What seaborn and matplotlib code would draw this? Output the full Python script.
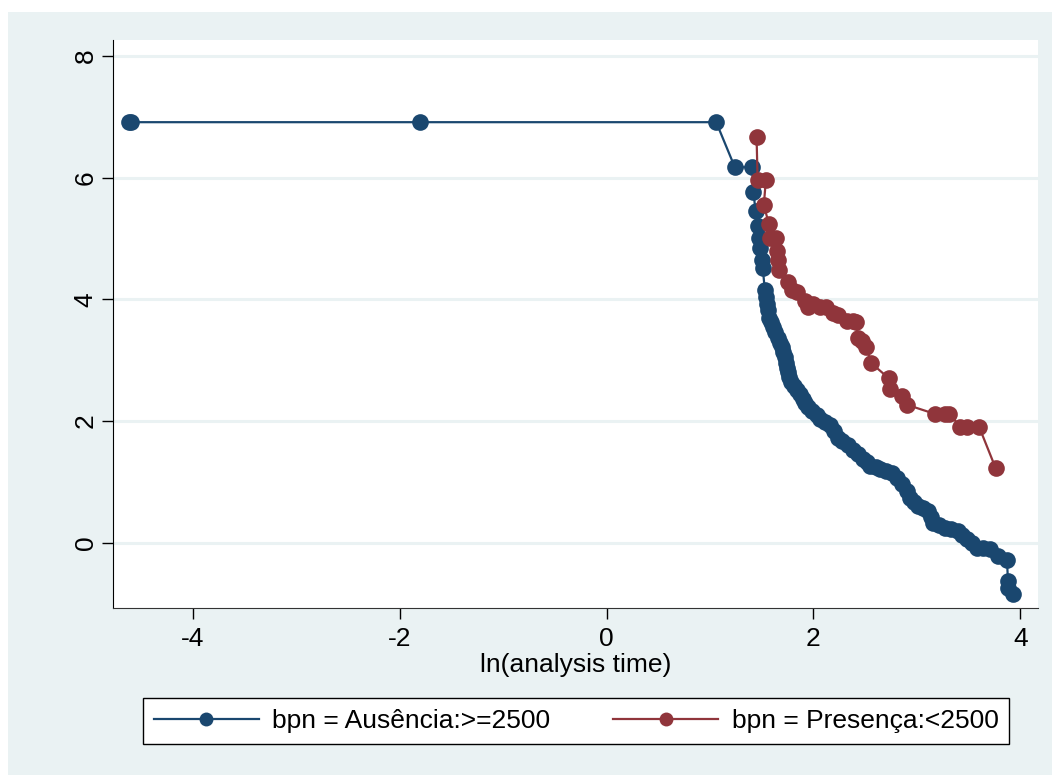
import matplotlib
matplotlib.use("Agg")
import matplotlib.pyplot as plt
import seaborn as sns
import pandas as pd
from matplotlib.patches import Rectangle

# log-log survival curves
ausencia_x = [-4.62, -4.60, -1.80, 1.06, 1.24, 1.41, 1.42, 1.44, 1.46, 1.47, 1.48, 1.50,
              1.51, 1.53, 1.54, 1.55, 1.56, 1.57, 1.59, 1.61, 1.63, 1.66, 1.68, 1.70,
              1.71, 1.72, 1.73, 1.74, 1.75, 1.76, 1.78, 1.81, 1.84, 1.87, 1.90, 1.92,
              1.95, 1.99, 2.03, 2.06, 2.11, 2.16, 2.20, 2.24, 2.28, 2.33, 2.38, 2.43,
              2.48, 2.52, 2.55, 2.60, 2.64, 2.70, 2.76, 2.81, 2.86, 2.90, 2.93, 2.97,
              3.01, 3.06, 3.11, 3.14, 3.16, 3.21, 3.27, 3.33, 3.40, 3.44, 3.48, 3.53,
              3.58, 3.64, 3.71, 3.78, 3.87, 3.88, 3.88, 3.93]
ausencia_y = [6.91, 6.91, 6.91, 6.91, 6.17, 6.17, 5.76, 5.45, 5.20, 5.00, 4.84, 4.64,
              4.51, 4.15, 4.04, 3.93, 3.82, 3.70, 3.62, 3.54, 3.46, 3.37, 3.29, 3.21,
              3.13, 3.05, 2.96, 2.88, 2.80, 2.72, 2.65, 2.58, 2.51, 2.45, 2.37, 2.29,
              2.23, 2.17, 2.10, 2.04, 1.98, 1.93, 1.83, 1.73, 1.67, 1.60, 1.53, 1.46,
              1.38, 1.32, 1.27, 1.24, 1.22, 1.18, 1.14, 1.06, 0.97, 0.86, 0.74, 0.67,
              0.61, 0.57, 0.53, 0.43, 0.33, 0.29, 0.25, 0.22, 0.20, 0.13, 0.07, 0.00,
              -0.08, -0.09, -0.10, -0.21, -0.28, -0.63, -0.74, -0.84]

presenca_x = [1.45, 1.46, 1.54, 1.52, 1.57, 1.58, 1.64, 1.65, 1.66, 1.67, 1.75, 1.79,
              1.84, 1.92, 1.95, 2.00, 2.06, 2.12, 2.19, 2.24, 2.32, 2.38, 2.41, 2.43,
              2.47, 2.51, 2.56, 2.73, 2.74, 2.86, 2.90, 3.17, 3.27, 3.31, 3.42, 3.48,
              3.60, 3.76]
presenca_y = [6.67, 5.96, 5.96, 5.55, 5.23, 5.00, 5.00, 4.80, 4.64, 4.48, 4.28, 4.16,
              4.12, 3.98, 3.88, 3.93, 3.88, 3.88, 3.77, 3.75, 3.64, 3.64, 3.62, 3.37,
              3.31, 3.21, 2.95, 2.70, 2.53, 2.42, 2.27, 2.12, 2.12, 2.12, 1.91, 1.91,
              1.91, 1.23]

labels = ["bpn = Ausência:>=2500", "bpn = Presença:<2500"]
colors = ["#1a476f", "#90353b"]

df = pd.concat([
    pd.DataFrame({"x": ausencia_x, "y": ausencia_y, "grupo": labels[0]}),
    pd.DataFrame({"x": presenca_x, "y": presenca_y, "grupo": labels[1]}),
], ignore_index=True)

bg = "#eaf2f3"
plt.rcParams["font.family"] = ["Liberation Sans", "DejaVu Sans"]
plt.rcParams["axes.unicode_minus"] = False

fig = plt.figure(figsize=(10.52, 7.75), dpi=100, facecolor="white")
fig.patches.append(Rectangle((8 / 1052, 0), 1, 1 - 12 / 775, transform=fig.transFigure,
                             facecolor=bg, edgecolor="none", zorder=-10))
ax = fig.add_axes([113 / 1052, 1 - 608 / 775, 925 / 1052, 568 / 775])
ax.set_facecolor("white")

for y in [0, 2, 4, 6, 8]:
    ax.axhline(y, color=bg, lw=2.2, zorder=0)

sns.lineplot(data=df, x="x", y="y", hue="grupo", palette=colors, sort=False,
             estimator=None, marker="o", markersize=12, markeredgewidth=0,
             linewidth=1.6, ax=ax, legend=False)

ax.set_xlim(-4.77, 4.17)
ax.set_ylim(-1.07, 8.26)
ax.set_xticks([-4, -2, 0, 2, 4])
ax.set_yticks([0, 2, 4, 6, 8])
ax.tick_params(axis="both", length=8, width=1, color="black", labelsize=19)
ax.tick_params(axis="x", pad=6)
ax.tick_params(axis="y", pad=3)
for t in ax.get_yticklabels():
    t.set_rotation(90)
    t.set_va("center")
ax.set_xlabel("ln(analysis time)", fontsize=19, labelpad=1)
ax.set_ylabel("")
for s in ["top", "right"]:
    ax.spines[s].set_visible(False)
ax.spines["left"].set_color("black")
ax.spines["bottom"].set_color("#333333")

handles = [plt.Line2D([], [], color=c, lw=1.6, marker="o", markersize=10,
                      markeredgewidth=0) for c in colors]
leg = fig.legend(handles, labels, loc="center", ncol=2, mode="expand",
                 bbox_to_anchor=(143 / 1052, 1 - 746 / 775, 866 / 1052, 50 / 775),
                 fontsize=19, frameon=True, fancybox=False, edgecolor="black",
                 framealpha=1, handlelength=4, borderpad=0.4, handletextpad=0.5,
                 borderaxespad=0)
leg.get_frame().set_linewidth(1)
leg.get_frame().set_facecolor("white")

fig.savefig("out.png", dpi=100, facecolor="white")
